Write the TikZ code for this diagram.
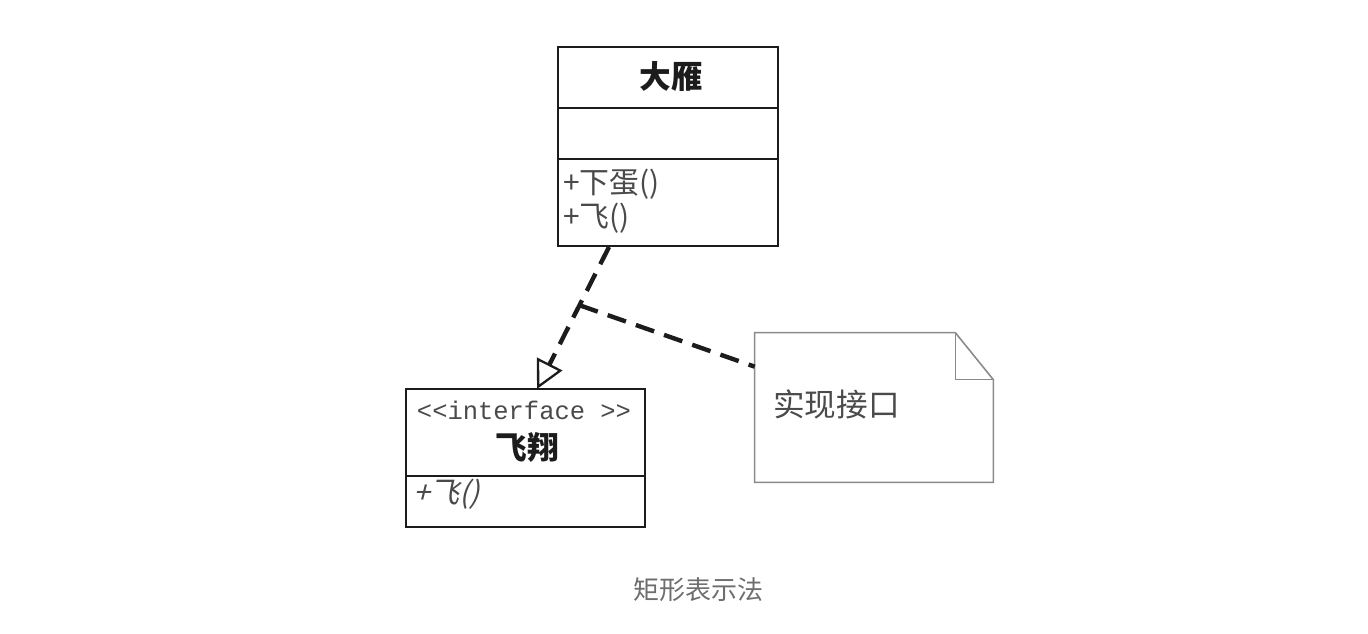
\documentclass[tikz,border=0pt]{standalone}
\usepackage{fontspec}
\setmainfont{Liberation Serif}
\setmonofont{Liberation Mono}
\newfontfamily\cjk{Noto Sans CJK SC}
\newfontfamily\cjkslant[FakeSlant=0.25]{Noto Sans CJK SC}
\usetikzlibrary{arrows.meta,positioning,calc}
\definecolor{Ink}{HTML}{1C1C1C}
\definecolor{SoftInk}{HTML}{4A4A4A}
\definecolor{NoteGray}{HTML}{8A8A8A}
\definecolor{CaptionGray}{HTML}{6E6E6E}

\begin{document}
\begin{tikzpicture}[font=\cjk\fontsize{17pt}{20pt}\selectfont, >=Latex, x=0.02cm, y=-0.02cm]
\tikzset{compartment/.style={draw=Ink, line width=1.1pt, inner sep=0pt}, classname/.style={font=\cjk\bfseries\fontsize{18pt}{20pt}\selectfont, text=Ink, inner sep=0pt}, stereo/.style={font=\ttfamily\fontsize{14.5pt}{16pt}\selectfont, text=SoftInk, inner sep=0pt}, operation/.style={anchor=west, text=SoftInk, inner sep=0pt}, realize/.style={draw=Ink, line width=2.5pt, dash pattern=on 11pt off 6pt, -{Triangle[open, length=16pt, width=16pt, line width=1.3pt]}}, noteline/.style={draw=Ink, line width=2.5pt, dash pattern=on 11pt off 6pt}, notebody/.style={minimum width=4.76cm, minimum height=2.98cm, inner sep=0pt}, noteframe/.style={draw=NoteGray, line width=0.9pt}, caption/.style={font=\cjk\fontsize{14.8pt}{17pt}\selectfont, text=CaptionGray, inner sep=0pt}}
\useasboundingbox (0,0) rectangle (1368,634);
% class 大雁
\foreach \name/\y/\h in {gooseHead/77.5/1.22, gooseAttr/133.5/1.02, gooseOps/202.5/1.74} {
  \node[compartment, minimum width=4.4cm, minimum height=\h cm] (\name) at (668,\y) {};
}
\node[classname] (gooseTitle) at (671,77) {大雁};
\node[operation] (gooseLay) at (563,184) {+下蛋()};
\node[operation] (gooseFly) at (563,218) {+飞()};
% interface 飞翔
\node[compartment, minimum width=4.78cm, minimum height=1.74cm] (flyHead) at (525.5,432.5) {};
\node[compartment, minimum width=4.78cm, minimum height=1.02cm] (flyOps) at (525.5,501.5) {};
\node[stereo] (flyStereo) at (524,410) {<<interface >>};
\node[classname] (flyTitle) at (527,447) {飞翔};
\node[operation, font=\cjkslant\fontsize{17pt}{20pt}\selectfont] (flyOp) at (413,494) {+飞()};
% note
\node[notebody] (note) at (874,407.5) {};
\draw[noteframe] (note.north west) -- ($(note.north east)+(-38,0)$) -- ($(note.north east)+(0,47)$) -- (note.south east) -- (note.south west) -- cycle;
\draw[noteframe] ($(note.north east)+(-38,0)$) |- ($(note.north east)+(0,47)$);
\node[anchor=west, font=\cjk\fontsize{18pt}{20pt}\selectfont, text=SoftInk, inner sep=0pt] (noteText) at (773,404) {实现接口};
% realization
\coordinate (realFrom) at (609,247);
\coordinate (realTo) at (537,389);
\draw[realize] (realFrom) -- (realTo);
\coordinate (noteJoin) at ($(realFrom)!0.41!(realTo)$);
\coordinate (noteHook) at ($(note.north west)+(0,34)$);
\draw[noteline] (noteJoin) -- (noteHook);
\node[caption] (caption) at (698,590) {矩形表示法};
\end{tikzpicture}
\end{document}
